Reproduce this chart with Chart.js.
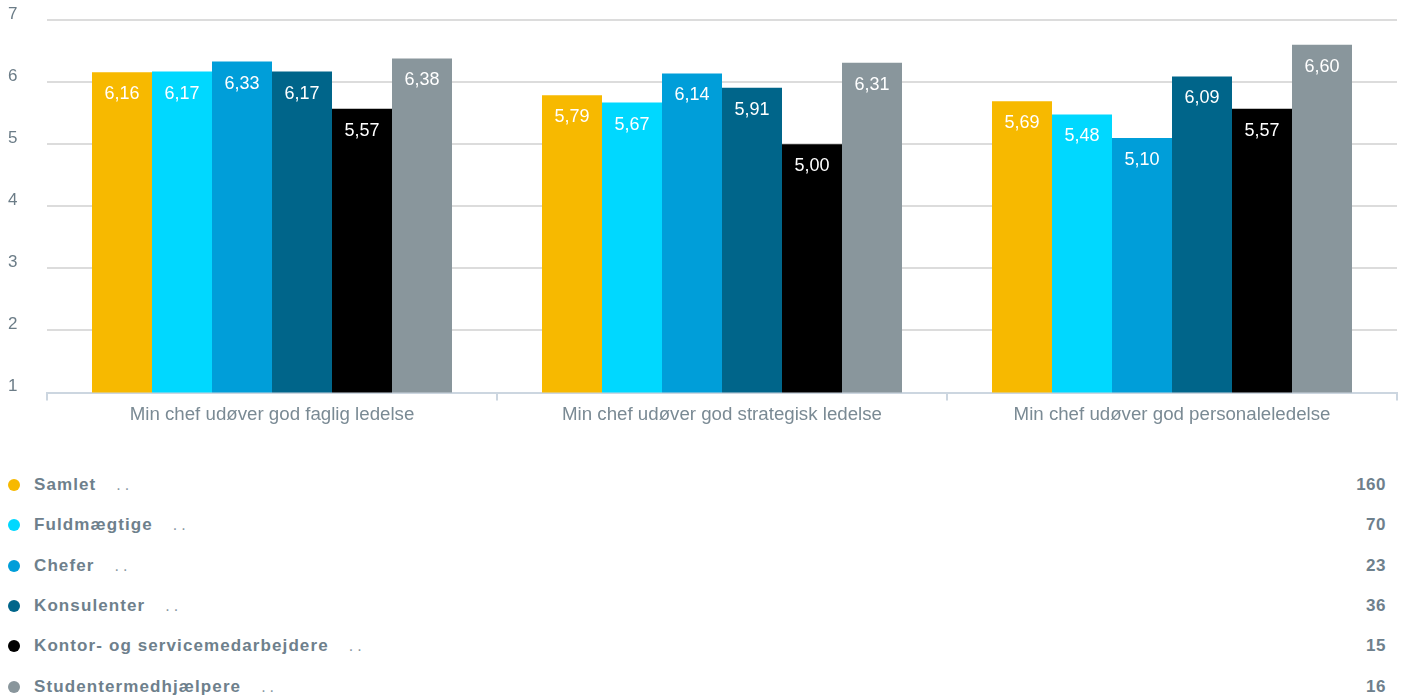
<!DOCTYPE html>
<html>
<head>
<meta charset="utf-8">
<script src="https://cdn.jsdelivr.net/npm/chart.js@4.4.0/dist/chart.umd.min.js"></script>
<style>
  body { margin: 0; background: #fff; font-family: "Liberation Sans", Arial, sans-serif; }
  #wrap { width: 1404px; height: 430px; position: relative; }
  #legend { margin-top: 35px; padding: 0 18px 0 8px; }
  .row { display: flex; align-items: center; height: 40.3px; }
  .dot { width: 12px; height: 12px; border-radius: 50%; margin-right: 14px; }
  .lbl { font-weight: bold; font-size: 17px; color: #6e808c; letter-spacing: 1.1px; }
  .lead { margin-left: 20px; font-size: 16px; color: #8a9aa3; letter-spacing: 4px; }
  .cnt { margin-left: auto; font-weight: bold; font-size: 17px; color: #6e808c; letter-spacing: 0.5px; }
</style>
</head>
<body>
<div id="wrap"><canvas id="chart"></canvas></div>
<div id="legend"></div>
<script>
// categories and series
const categories = [
    'Min chef udøver god faglig ledelse',
    'Min chef udøver god strategisk ledelse',
    'Min chef udøver god personaleledelse'
];
const groupNames = ['Samlet', 'Fuldmægtige', 'Chefer', 'Konsulenter', 'Kontor- og servicemedarbejdere', 'Studentermedhjælpere'];
const groupCounts = [160, 70, 23, 36, 15, 16];
const groupColors = ['#f7b900', '#00d8ff', '#009ed9', '#00658a', '#000000', '#89969c'];

const samlet = [6.16, 5.79, 5.69];
const fuldmaegtige = [6.17, 5.67, 5.48];
const chefer = [6.33, 6.14, 5.10];
const konsulenter = [6.17, 5.91, 6.09];
const kontor = [5.57, 5.00, 5.57];
const studenter = [6.38, 6.31, 6.60];
const seriesValues = [samlet, fuldmaegtige, chefer, konsulenter, kontor, studenter];

const yTicks = [1, 2, 3, 4, 5, 6, 7];

// white value labels inside the bars
const valueLabels = {
    id: 'valueLabels',
    afterDatasetsDraw(chart) {
        const ctx = chart.ctx;
        ctx.save();
        ctx.fillStyle = '#ffffff';
        ctx.font = '18px "Liberation Sans", Arial, sans-serif';
        ctx.textAlign = 'center';
        ctx.textBaseline = 'middle';
        chart.data.datasets.forEach((ds, i) => {
            chart.getDatasetMeta(i).data.forEach((bar, j) => {
                ctx.fillText(ds.data[j].toFixed(2).replace('.', ','), bar.x, bar.y + 22);
            });
        });
        ctx.restore();
    }
};

new Chart(document.getElementById('chart'), {
    type: 'bar',
    data: {
        labels: categories,
        datasets: groupNames.map((name, i) => ({
            label: name,
            data: seriesValues[i],
            backgroundColor: groupColors[i],
            categoryPercentage: 0.8,
            barPercentage: 1.0
        }))
    },
    options: {
        responsive: true,
        maintainAspectRatio: false,
        animation: false,
        layout: { padding: { left: 8, right: 7, top: 20, bottom: 1 } },
        plugins: {
            legend: { display: false },
            tooltip: { enabled: false }
        },
        scales: {
            x: {
                grid: { offset: true, drawOnChartArea: false, tickLength: 8, color: '#ccd6e0', lineWidth: 2 },
                border: { color: '#ccd6e0', width: 2 },
                ticks: { color: '#7a8a94', font: { size: 18.7, family: '"Liberation Sans", Arial, sans-serif' }, padding: 3 }
            },
            y: {
                min: 1,
                max: 7,
                afterFit(scale) { scale.width = 39; },
                afterBuildTicks(scale) { scale.ticks = yTicks.map(v => ({ value: v })); },
                grid: { color: '#dcdcdc', lineWidth: 2, drawTicks: false },
                border: { display: false },
                ticks: {
                    color: '#6b7c87',
                    crossAlign: 'far',
                    labelOffset: -6,
                    font: { size: 17, family: '"Liberation Sans", Arial, sans-serif' }
                }
            }
        }
    },
    plugins: [valueLabels]
});

// custom legend with counts
const legend = document.getElementById('legend');
groupNames.forEach((name, i) => {
    const row = document.createElement('div');
    row.className = 'row';
    row.innerHTML = `<span class="dot" style="background:${groupColors[i]}"></span>` +
        `<span class="lbl">${name}</span><span class="lead">..</span>` +
        `<span class="cnt">${groupCounts[i]}</span>`;
    legend.appendChild(row);
});
</script>
</body>
</html>
